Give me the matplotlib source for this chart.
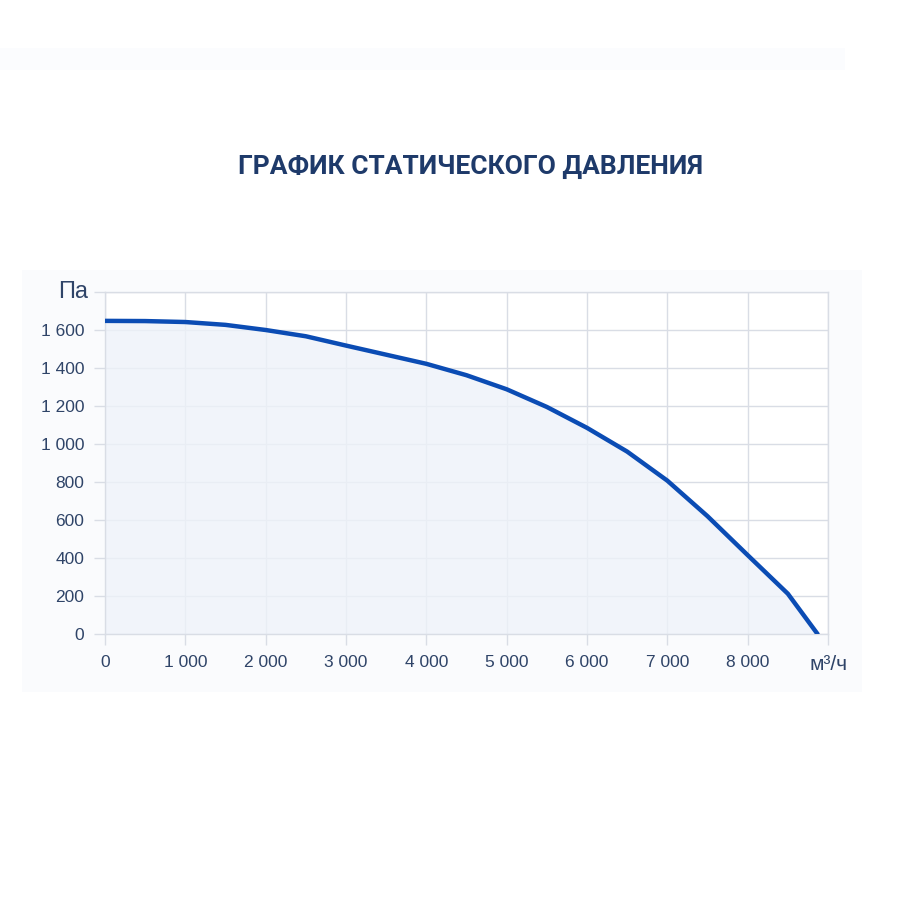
import matplotlib
matplotlib.use('Agg')
import matplotlib.pyplot as plt
from matplotlib.patches import Rectangle

# расход, м3/ч  и  статическое давление, Па
flow = [0, 500, 1000, 1500, 2000, 2500, 3000, 3500, 4000, 4500, 5000,
        5500, 6000, 6500, 7000, 7500, 8000, 8500, 8870]
pressure = [1648, 1647, 1642, 1627, 1600, 1567, 1518, 1470, 1422, 1362, 1288,
            1195, 1085, 960, 807, 620, 415, 212, 0]

x_ticks = [0, 1000, 2000, 3000, 4000, 5000, 6000, 7000, 8000, 9000]
x_labels = ['0', '1 000', '2 000', '3 000', '4 000', '5 000', '6 000', '7 000', '8 000', '']
y_ticks = [0, 200, 400, 600, 800, 1000, 1200, 1400, 1600, 1800]
y_labels = ['0', '200', '400', '600', '800', '1 000', '1 200', '1 400', '1 600', '']

title = 'ГРАФИК СТАТИЧЕСКОГО ДАВЛЕНИЯ'
line_col = '#0b4cb4'
text_col = '#2f4468'
grid_col = '#d9dde5'

plt.rcParams['font.family'] = ['Liberation Sans', 'DejaVu Sans']

fig = plt.figure(figsize=(9, 9), dpi=100)
fig.patch.set_facecolor('white')

# бледные подложки
fig.patches.append(Rectangle((0, 1 - 70 / 900), 845 / 900, 22 / 900, transform=fig.transFigure,
                             facecolor='#fbfcfe', edgecolor='none', zorder=-5))
fig.patches.append(Rectangle((22 / 900, 1 - 692 / 900), 840 / 900, 422 / 900, transform=fig.transFigure,
                             facecolor='#fafbfd', edgecolor='none', zorder=-5))

fig.text(470 / 900, 1 - 167 / 900, title, ha='center', va='center',
         fontsize=19, fontweight='bold', color='#1e3a6a', family=['Roboto', 'DejaVu Sans'])

ax = fig.add_axes([105 / 900, 1 - 634 / 900, 723 / 900, 342 / 900], zorder=2)
ax.set_facecolor('white')
ax.fill_between(flow, pressure, 0, color='#eef2f9', alpha=0.8, lw=0, zorder=1)
ax.plot(flow, pressure, color=line_col, lw=3.2, solid_capstyle='round',
        solid_joinstyle='round', zorder=3)

ax.set_xlim(0, 9000)
ax.set_ylim(0, 1800)
ax.set_xticks(x_ticks)
ax.set_xticklabels(x_labels)
ax.set_yticks(y_ticks)
ax.set_yticklabels(y_labels)
ax.grid(True, color=grid_col, lw=1, zorder=0)
ax.set_axisbelow(True)
for s in ax.spines.values():
    s.set_color(grid_col)
    s.set_linewidth(1)
ax.tick_params(axis='both', colors=grid_col, labelcolor=text_col, labelsize=12.5,
               length=8, width=1, pad=7)

fig.text(73 / 900, 1 - 292 / 900, 'Па', ha='center', va='center', fontsize=17, color=text_col)
fig.text(829 / 900, 1 - 665 / 900, 'м³/ч', ha='center', va='center', fontsize=15, color=text_col)

fig.savefig('out.png', dpi=100, facecolor='white')
